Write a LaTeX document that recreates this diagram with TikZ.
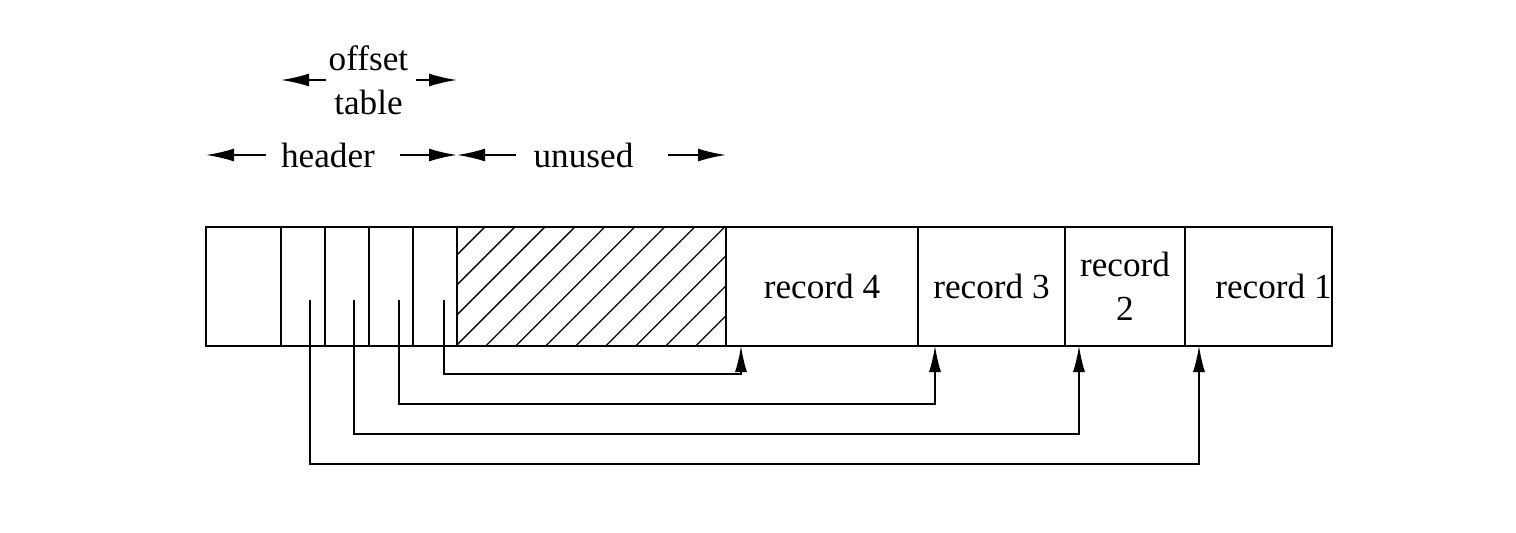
\documentclass[tikz,border=0pt]{standalone}
\usepackage{fontspec}
\setmainfont{Liberation Serif}
\usetikzlibrary{positioning,arrows.meta,patterns.meta}
\tikzstyle{cell} = [draw, rectangle, line width=1pt, minimum height=59.5pt, inner sep=0pt, outer sep=0pt, align=center]
\tikzstyle{arrow} = [line width=1pt, -{Latex[length=14pt,width=6.5pt]}]
\tikzstyle{ptr} = [line width=0.7pt, -{Latex[length=13pt,width=6pt]}]
\tikzstyle{lbl} = [inner sep=0pt, align=center]

\begin{document}
\begin{tikzpicture}[font=\fontsize{17.6}{22}\selectfont]
\useasboundingbox (0,0) rectangle (758pt,266pt);
% page block
\node (c0) [cell, minimum width=37.5pt] at (121.75pt,122.75pt) {};
\node (o1) [cell, minimum width=22pt, right=0pt of c0] {};
\node (o2) [cell, minimum width=22pt, right=0pt of o1] {};
\node (o3) [cell, minimum width=22pt, right=0pt of o2] {};
\node (o4) [cell, minimum width=22pt, right=0pt of o3] {};
\node (u) [cell, minimum width=134.5pt, right=0pt of o4, pattern={Lines[angle=45,distance=10.6pt,line width=0.65pt]}] {};
\node (r4) [cell, minimum width=96pt, right=0pt of u] {record 4};
\node (r3) [cell, minimum width=73.5pt, right=0pt of r4] {record 3};
\node (r2) [cell, minimum width=60pt, right=0pt of r3] {record\\2};
\node (r1) [cell, minimum width=73.5pt, right=0pt of r2] {};
\node (t1) [lbl, anchor=east] at (r1.east) {record 1};
% labels above
\node (ofs) [lbl] at (184.25pt,226pt) {offset\\table};
\node (hdr) [lbl] at (164pt,188.5pt) {header};
\node (unu) [lbl] at (291.75pt,188.5pt) {unused};
\draw[arrow] ([xshift=-1.25pt]ofs.west) -- (ofs.west -| o1.west);
\draw[arrow] ([xshift=3.75pt]ofs.east) -- (ofs.east -| o4.east);
\draw[arrow] ([xshift=-7.5pt]hdr.west) -- (hdr.west -| c0.west);
\draw[arrow] ([xshift=12.5pt]hdr.east) -- (hdr.east -| o4.east);
\draw[arrow] ([xshift=-8.5pt]unu.west) -- (unu.west -| u.west);
\draw[arrow] ([xshift=17pt]unu.east) -- (unu.east -| u.east);
% offsets pointing to records
\coordinate (p1) at ([xshift=3.5pt,yshift=23pt]o1.south);
\coordinate (p2) at ([xshift=3.5pt,yshift=23pt]o2.south);
\coordinate (p3) at ([xshift=4pt,yshift=23pt]o3.south);
\coordinate (p4) at ([xshift=4.5pt,yshift=23pt]o4.south);
\coordinate (a1) at ([xshift=7pt]r1.south west);
\coordinate (a2) at ([xshift=7pt]r2.south west);
\coordinate (a3) at ([xshift=8.5pt]r3.south west);
\coordinate (a4) at ([xshift=7.5pt]r4.south west);
\draw[ptr] (p1) -- ++(0,-82pt) -| (a1);
\draw[ptr] (p2) -- ++(0,-67pt) -| (a2);
\draw[ptr] (p3) -- ++(0,-52pt) -| (a3);
\draw[ptr] (p4) -- ++(0,-37pt) -| (a4);
\end{tikzpicture}
\end{document}
